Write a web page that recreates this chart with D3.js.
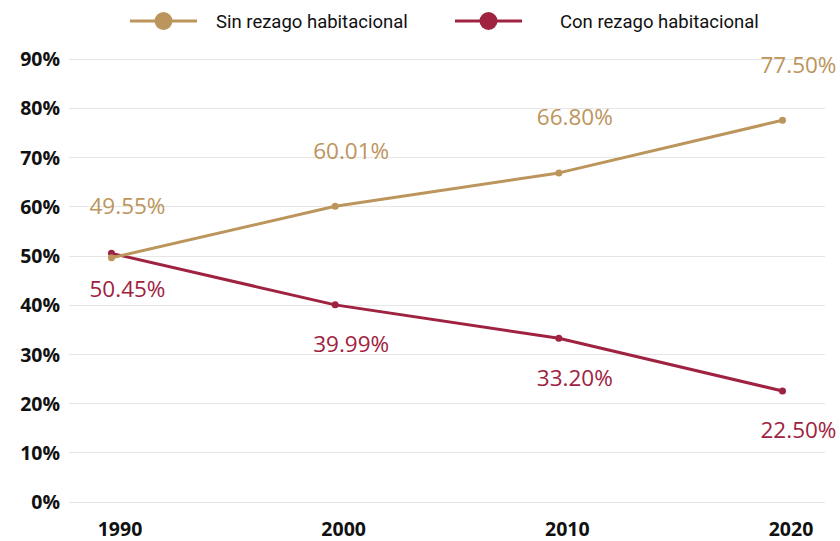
<!DOCTYPE html>
<html>
<head>
<meta charset="utf-8">
<script src="https://cdn.jsdelivr.net/npm/d3@7"></script>
<style>
  html, body { margin: 0; padding: 0; background: #ffffff; }
  svg { display: block; }
</style>
</head>
<body>
<svg id="chart" width="840" height="541"></svg>
<script>
// Years on the x axis
const years = ["1990", "2000", "2010", "2020"];
// Share of households, in percent
const sinRezago = [49.55, 60.01, 66.80, 77.50];
const conRezago = [50.45, 39.99, 33.20, 22.50];
// Y tick values, in percent
const yTicks = [0, 10, 20, 30, 40, 50, 60, 70, 80, 90];
const seriesNames = ["Sin rezago habitacional", "Con rezago habitacional"];
const seriesColors = ["#bc955c", "#9f2241"];

const svg = d3.select("#chart");
const plotLeft = 69, plotRight = 825, plotTop = 58.7, plotBottom = 501.7;

const x = d3.scalePoint().domain(years).range([plotLeft, plotRight]).padding(0.19);
const y = d3.scaleLinear().domain([0, 90]).range([plotBottom, plotTop]);

// Horizontal gridlines
svg.append("g")
  .selectAll("line")
  .data(yTicks)
  .join("line")
  .attr("x1", plotLeft).attr("x2", plotRight)
  .attr("y1", d => Math.round(y(d)) + 0.5).attr("y2", d => Math.round(y(d)) + 0.5)
  .attr("stroke", "#e6e6e6").attr("stroke-width", 1);

// Y axis labels
const yAxis = d3.axisLeft(y).tickValues(yTicks).tickFormat(d => d + "%").tickSize(0).tickPadding(0);
const gy = svg.append("g").attr("transform", "translate(60,0)").call(yAxis);
gy.select(".domain").remove();
gy.selectAll("text")
  .attr("dy", "0.36em")
  .style("font-family", "'Open Sans', sans-serif")
  .style("font-weight", "700")
  .style("font-size", "19.5px")
  .attr("fill", "#111");

// X axis labels
const xAxis = d3.axisBottom(x).tickSize(0).tickPadding(0);
const gx = svg.append("g").attr("transform", "translate(8,0)").call(xAxis);
gx.select(".domain").remove();
gx.selectAll("text")
  .attr("y", 535.5).attr("dy", null)
  .style("font-family", "'Open Sans', sans-serif")
  .style("font-weight", "700")
  .style("font-size", "19.5px")
  .attr("fill", "#111");

const series = [
  { name: seriesNames[1], values: conRezago, color: seriesColors[1], dir: 1 },
  { name: seriesNames[0], values: sinRezago, color: seriesColors[0], dir: -1 }
];

const line = d3.line().x((d, i) => x(years[i])).y(d => y(d));

series.forEach(s => {
  const g = svg.append("g");
  g.append("path")
    .datum(s.values)
    .attr("d", line)
    .attr("fill", "none")
    .attr("stroke", s.color)
    .attr("stroke-width", 3)
    .attr("stroke-linejoin", "round");
  g.selectAll("circle")
    .data(s.values)
    .join("circle")
    .attr("cx", (d, i) => x(years[i]))
    .attr("cy", d => y(d))
    .attr("r", 3.5)
    .attr("fill", s.color);
});

// Value labels, placed above the upper series and below the lower one
series.forEach(s => {
  svg.append("g")
    .selectAll("text")
    .data(s.values)
    .join("text")
    .attr("x", (d, i) => x(years[i]) + 16)
    .attr("y", (d, i) => y(d) + s.dir * (i === 0 ? 44 : 47.5))
    .attr("text-anchor", "middle")
    .style("font-family", "'Open Sans', sans-serif")
    .style("font-size", "22.5px")
    .attr("fill", s.color)
    .text(d => d.toFixed(2) + "%");
});

// Legend
const legendItems = [
  { name: seriesNames[0], color: seriesColors[0], x0: 130, tx: 216 },
  { name: seriesNames[1], color: seriesColors[1], x0: 455, tx: 560 }
];
const lg = svg.append("g");
legendItems.forEach(it => {
  lg.append("line")
    .attr("x1", it.x0).attr("x2", it.x0 + 67)
    .attr("y1", 21).attr("y2", 21)
    .attr("stroke", it.color).attr("stroke-width", 3);
  lg.append("circle")
    .attr("cx", it.x0 + 33.5).attr("cy", 21).attr("r", 9)
    .attr("fill", it.color);
  lg.append("text")
    .attr("x", it.tx).attr("y", 28)
    .style("font-family", "Roboto, sans-serif")
    .style("font-size", "18.5px")
    .attr("fill", "#111")
    .text(it.name);
});
</script>
</body>
</html>
